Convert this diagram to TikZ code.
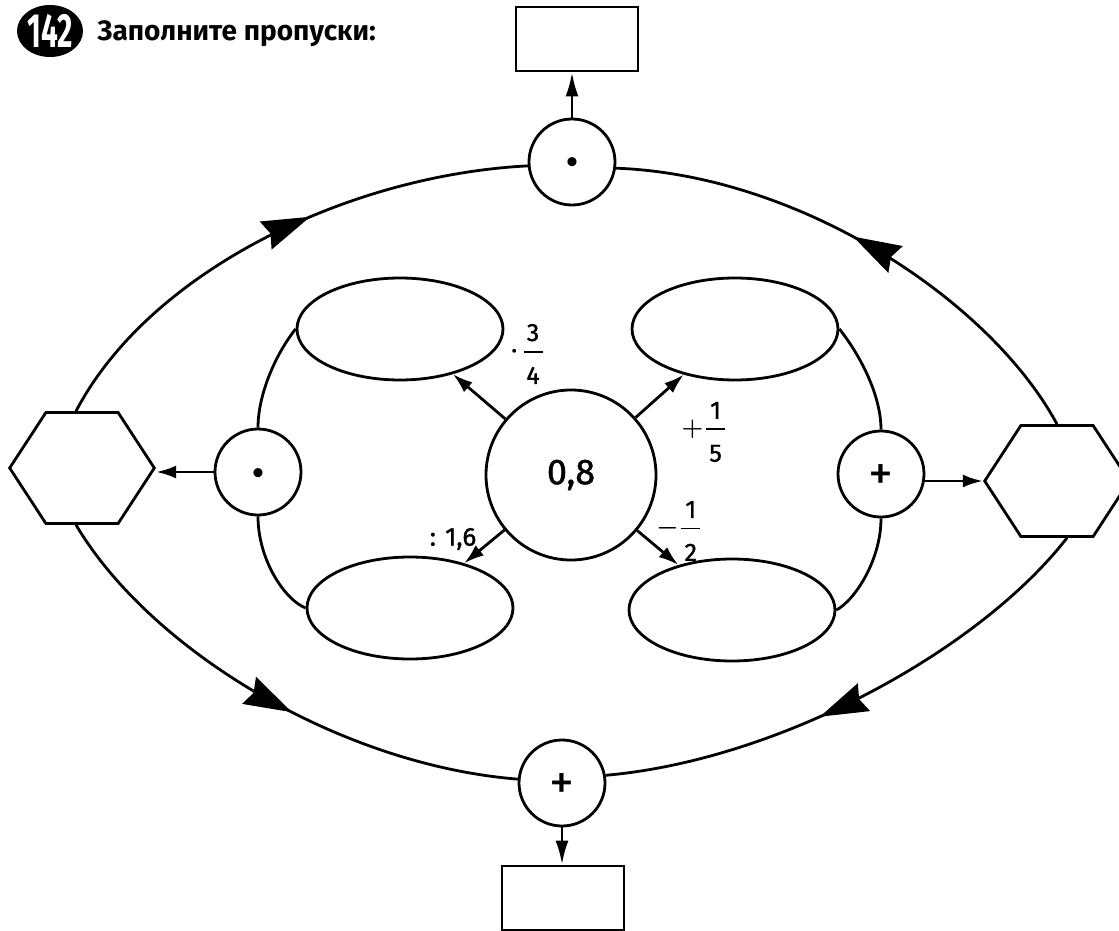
\documentclass[tikz,border=0pt]{standalone}
\usepackage{amsmath}
\usepackage{fontspec}
\setmainfont{Fira Sans}
\newfontfamily\labfont{Fira Sans}[FakeBold=1.2]
\usetikzlibrary{shapes.geometric,arrows.meta,decorations.markings}
\newcommand\myfrac[2]{\genfrac{}{}{1.8pt}{0}{\makebox[19pt]{#1}}{\mbox{\rule{0pt}{26pt}#2}}}
\begin{document}
\begin{tikzpicture}[x=1pt,y=-1pt,
  line width=2.8pt,
  every node/.style={inner sep=0pt},
  opc/.style={draw,circle,minimum size=86pt,fill=white,font=\fontsize{50}{50}\selectfont,text height=32pt,text depth=0pt},
  res/.style={draw,ellipse,minimum width=206pt,minimum height=102pt},
  hexa/.style={draw,regular polygon,regular polygon sides=6,minimum size=128pt,xscale=1.13},
  box/.style={draw,rectangle,minimum width=122pt,minimum height=64pt},
  arr/.style={-{Latex[length=20pt,width=13pt]}},
  flow/.style={postaction={decorate},decoration={markings,mark=at position #1 with {\arrow{Stealth[length=48pt,width=30pt,inset=5pt]}}}},
  lab/.style={font=\fontsize{25}{28}\labfont\selectfont}
]
\useasboundingbox (0,0) rectangle (1119,931);
\clip (0,0) rectangle (1119,931);

% title
\node[ellipse,fill=black,minimum width=66pt,minimum height=52pt,text=white,font=\fontsize{48}{48}\selectfont\bfseries] (num) at (50,31) {\scalebox{0.62}[1]{142}};
\node[anchor=base west,font=\fontsize{28}{30}\selectfont\bfseries] (title) at (96,41) {Заполните пропуски:};

% centre and results
\node[draw,circle,minimum size=170pt,font=\fontsize{36}{36}\labfont\selectfont] (c) at (571,475) {0,8};
\node[res] (tl) at (400,329) {};
\node[res] (tr) at (735,329) {};
\node[res] (bl) at (410,608) {};
\node[res] (br) at (732,610) {};

% operation circles
\node[opc,font=\fontsize{50}{50}\selectfont\bfseries] (lc) at (258,472) {·};
\node[opc] (rc) at (881,474) {+};
\node[opc,font=\fontsize{50}{50}\selectfont\bfseries] (tc) at (572,162) {·};
\node[opc] (bc) at (562,783) {+};

% hexagons and boxes
\begin{scope}[shift={(82,468)}]
\node[hexa] (lh) at (0,0) {};
\end{scope}
\begin{scope}[shift={(1057,481)}]
\node[hexa] (rh) at (0,0) {};
\end{scope}
\node[box] (tb) at (577,39) {};
\node[box] (bb) at (563,898) {};

% arrows from centre
\draw[arr] (c) -- (tl);
\draw[arr] (c) -- (tr);
\draw[arr] (c) -- (bl);
\draw[arr] (c) -- (br);

% labels
\node[lab] (l1) at (527,354) {$\boldsymbol{\cdot}\mkern3mu\myfrac{3}{4}$};
\node[lab] (l2) at (704,432) {$\boldsymbol{+}\mkern1mu\myfrac{1}{5}$};
\node[lab] (l3) at (679,531) {$\boldsymbol{-}\mkern1mu\myfrac{1}{2}$};
\node[lab,font=\fontsize{26}{28}\labfont\selectfont] (l4) at (453,539) {: 1,6};

% inner curves
\draw (tl.west) .. controls (275,355) and (258,395) .. (lc.north);
\draw (lc.south) .. controls (258,560) and (285,600) .. (bl.west);
\draw (tr.east) .. controls (860,355) and (881,395) .. (rc.north);
\draw (rc.south) .. controls (881,560) and (855,600) .. (br.east);

% side arrows
\draw[arr] (lc.west) -- (lc.west -| lh.east);
\draw[arr] (rh.west -| rc.east) -- (rh.west);
\draw[-{Latex[length=24pt,width=13pt]}] (tc.north) -- (tc.north |- tb.south);
\draw[-{Latex[length=24pt,width=13pt]}] (bc.south) -- (bc.south |- bb.north);

% outer lens
\draw[flow=0.58] ([xshift=-6pt]lh.north) .. controls (150,270) and (350,175) .. (tc.185);
\draw[flow=0.53] (rh.north) .. controls (990,300) and (800,175) .. (tc.-8);
\draw[flow=0.55] ([xshift=-6pt]lh.south) .. controls (150,650) and (340,765) .. (bc.175);
\draw[flow=0.58] ([xshift=10pt]rh.south) .. controls (980,650) and (780,760) .. (bc.10);
\end{tikzpicture}
\end{document}
